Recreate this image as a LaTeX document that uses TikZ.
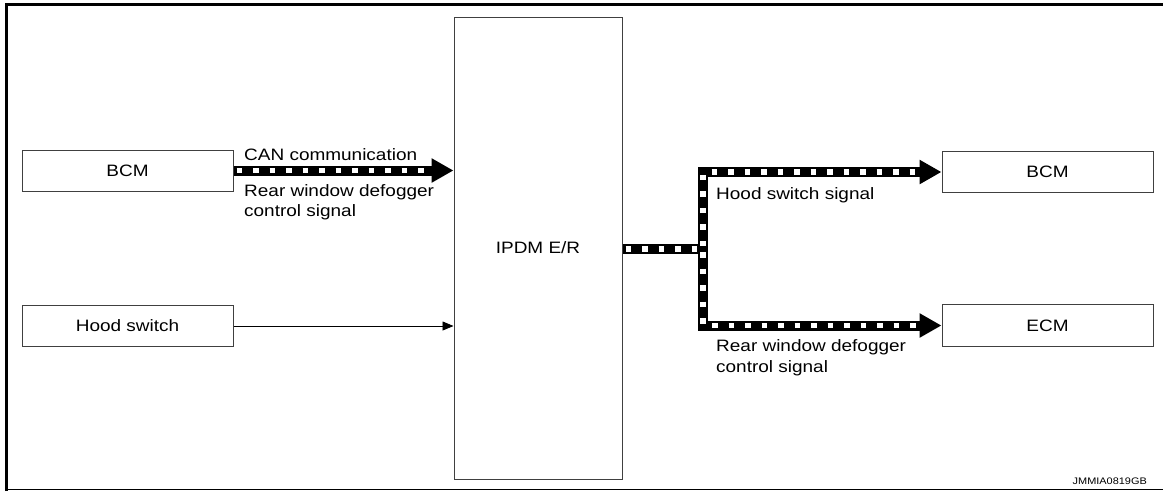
\documentclass[tikz,border=0pt]{standalone}
\usepackage{fontspec}
\setmainfont{Liberation Sans}[FakeStretch=1.15]
\usetikzlibrary{arrows.meta}
\tikzset{
  box/.style={draw=black!75, line width=1pt, inner sep=0pt},
  lbl/.style={anchor=base west, inner sep=0pt, font=\fontsize{16.5}{18}\selectfont},
  sig/.style={line width=10pt, -{Triangle[length=22pt,width=23pt]},
    postaction={draw=white, line width=5.5pt, dash pattern=on 5.5pt off 11pt, dash phase=-3pt, shorten >=24pt, -}},
  signa/.style={line width=10pt,
    postaction={draw=white, line width=5.5pt, dash pattern=on 5.5pt off 11pt, dash phase=-3pt}},
  thin/.style={line width=0.8pt, -{Triangle[length=11pt,width=9pt]}}
}
\begin{document}
\begin{tikzpicture}[x=1pt,y=-1pt]
\useasboundingbox (0,0) rectangle (1163,491);
% frame
\draw[line width=3pt] (6.5,491) -- (6.5,4.5) -- (1163,4.5);
\draw[line width=1pt] (6.5,489.5) -- (1163,489.5);
% boxes
\node[box, minimum width=211pt, minimum height=41pt, font=\fontsize{16.5}{18}\selectfont] (bcm) at (127.5,170.5) {BCM};
\node[box, minimum width=211pt, minimum height=41pt, font=\fontsize{16.5}{18}\selectfont] (hood) at (127.5,326) {Hood switch};
\node[box, minimum width=168pt, minimum height=462pt, font=\fontsize{16.5}{18}\selectfont] (ipdm) at (538,248) {IPDM E/R};
\node[box, minimum width=211pt, minimum height=41pt, font=\fontsize{16.5}{18}\selectfont] (bcm2) at (1047.5,172) {BCM};
\node[box, minimum width=211pt, minimum height=42pt, font=\fontsize{16.5}{18}\selectfont] (ecm) at (1047.5,325.5) {ECM};
% connectors
\draw[sig] (bcm.east) -- (bcm.east -| ipdm.west);
\draw[thin] (hood.east) -- (hood.east -| ipdm.west);
\coordinate (j) at (703,249);
\draw[signa] (ipdm.east |- j) -- (j);
\draw[sig] (j) |- (bcm2.west);
\draw[sig] (j) |- (ecm.west);
% labels
\node[lbl] (t1) at (244,160) {CAN communication};
\node[lbl] (t2) at (244,196) {Rear window defogger};
\node[lbl] (t3) at (244,216.5) {control signal};
\node[lbl] (t4) at (716,199) {Hood switch signal};
\node[lbl] (t5) at (716,351) {Rear window defogger};
\node[lbl] (t6) at (716,372) {control signal};
\node[anchor=base east, inner sep=0pt, font=\fontsize{9.5}{11}\selectfont] (id) at (1147,484) {JMMIA0819GB};
\end{tikzpicture}
\end{document}
